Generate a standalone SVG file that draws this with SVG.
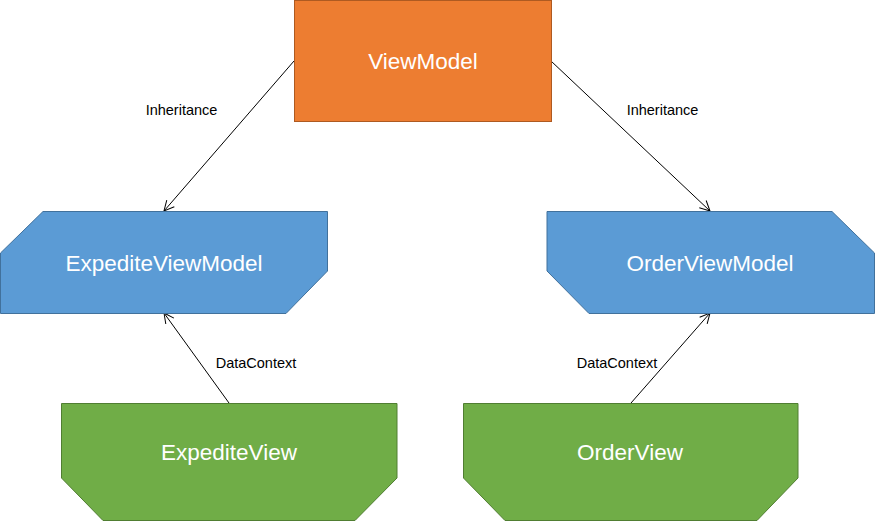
<svg xmlns="http://www.w3.org/2000/svg" width="875" height="522" viewBox="0 0 875 522">
<style>
.lbl{font-family:"Liberation Sans",Arial,sans-serif;font-size:22.5px;fill:#fff;text-anchor:middle}
.sm{font-family:"Liberation Sans",Arial,sans-serif;font-size:14.5px;fill:#000;text-anchor:middle}
.orange{fill:#ED7D31;stroke:#AE5A21;stroke-width:1}
.blue{fill:#5B9BD5;stroke:#41719C;stroke-width:1}
.green{fill:#70AD47;stroke:#507E32;stroke-width:1}
.conn{stroke:#000;stroke-width:1;fill:none;marker-end:url(#arr)}
</style>
<defs>
<marker id="arr" viewBox="0 0 12 12" refX="11" refY="6" markerWidth="12" markerHeight="12" markerUnits="userSpaceOnUse" orient="auto">
<path d="M1,1 L11,6 L1,11" fill="none" stroke="#000" stroke-width="1"/>
</marker>
</defs>
<rect width="875" height="522" fill="#fff"/>
<g id="connectors">
<line class="conn" x1="294" y1="61" x2="164" y2="211"/>
<line class="conn" x1="551" y1="61" x2="710" y2="211"/>
<line class="conn" x1="229" y1="403" x2="164" y2="313"/>
<line class="conn" x1="631" y1="403" x2="710" y2="313"/>
<text class="sm" x="181.5" y="115">Inheritance</text>
<text class="sm" x="662.5" y="115">Inheritance</text>
<text class="sm" x="256" y="368">DataContext</text>
<text class="sm" x="617" y="368">DataContext</text>
</g>
<g id="ViewModel">
<rect class="orange" x="294.5" y="0.5" width="257" height="121"/>
<text class="lbl" x="423" y="68.5">ViewModel</text>
</g>
<g id="ExpediteViewModel">
<polygon class="blue" points="43,211.5 327.5,211.5 327.5,271 286,313.5 0.5,313.5 0.5,253"/>
<text class="lbl" x="164" y="270.5">ExpediteViewModel</text>
</g>
<g id="OrderViewModel">
<polygon class="blue" points="547,211.5 832,211.5 874.5,253 874.5,313.5 589,313.5 547,271"/>
<text class="lbl" x="710" y="270.5">OrderViewModel</text>
</g>
<g id="ExpediteView">
<polygon class="green" points="61.5,403.5 397,403.5 397,478 355,520.5 103,520.5 61.5,478"/>
<text class="lbl" x="229" y="459.5">ExpediteView</text>
</g>
<g id="OrderView">
<polygon class="green" points="463.5,403.5 798,403.5 798,478 757,520.5 505,520.5 463.5,478"/>
<text class="lbl" x="630" y="459.5">OrderView</text>
</g>
</svg>
